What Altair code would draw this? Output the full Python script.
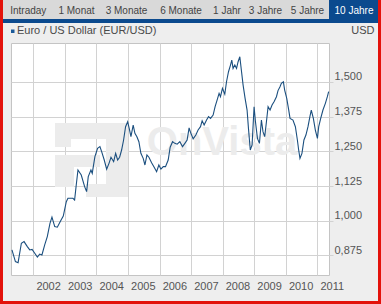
import altair as alt
import pandas as pd

dates = [
    "2001-04-28", "2001-06-07", "2001-07-08", "2001-08-15", "2001-09-15", "2001-10-23", "2001-11-20", "2001-12-17",
    "2002-01-17", "2002-02-16", "2002-03-15", "2002-04-10", "2002-05-12", "2002-06-11", "2002-07-12", "2002-08-04",
    "2002-09-05", "2002-10-05", "2002-11-13", "2002-12-13",
    "2003-01-17", "2003-02-05", "2003-04-04", "2003-04-23", "2003-05-12", "2003-06-01", "2003-07-09", "2003-08-17",
    "2003-09-09", "2003-09-28", "2003-10-29", "2003-11-13", "2003-12-14",
    "2004-01-14", "2004-02-10", "2004-03-01", "2004-03-31", "2004-04-28", "2004-05-25", "2004-06-17", "2004-07-18",
    "2004-08-10", "2004-09-02", "2004-09-25", "2004-10-18", "2004-11-10", "2004-12-03", "2004-12-27",
    "2005-01-14", "2005-02-03", "2005-03-01", "2005-03-21", "2005-04-13", "2005-05-06", "2005-05-29", "2005-06-25",
    "2005-07-15", "2005-08-07", "2005-08-30", "2005-09-30", "2005-10-30", "2005-11-27", "2005-12-23",
    "2006-01-16", "2006-02-12", "2006-03-10", "2006-04-10", "2006-05-03", "2006-05-31", "2006-06-26", "2006-07-23",
    "2006-08-23", "2006-09-23", "2006-10-20", "2006-11-15", "2006-12-08", "2006-12-24",
    "2007-01-24", "2007-02-24", "2007-03-22", "2007-04-19", "2007-05-08", "2007-05-31", "2007-06-28", "2007-07-21",
    "2007-08-13", "2007-09-12", "2007-10-05", "2007-10-28", "2007-11-20", "2007-12-06", "2007-12-29",
    "2008-01-25", "2008-02-14", "2008-03-08", "2008-03-31", "2008-04-15", "2008-04-30", "2008-05-20", "2008-06-09",
    "2008-06-27", "2008-07-17", "2008-08-06", "2008-08-24", "2008-09-16", "2008-10-09", "2008-10-25", "2008-11-15",
    "2008-12-06", "2008-12-29",
    "2009-01-14", "2009-02-06", "2009-03-01", "2009-03-24", "2009-04-11", "2009-05-01", "2009-05-21", "2009-06-09",
    "2009-07-02", "2009-07-25", "2009-08-17", "2009-09-14", "2009-10-02", "2009-10-25", "2009-11-10", "2009-12-03",
    "2009-12-18",
    "2010-01-11", "2010-02-03", "2010-02-18", "2010-03-24", "2010-04-21", "2010-05-14", "2010-05-29", "2010-06-13",
    "2010-07-06", "2010-07-29", "2010-08-21", "2010-09-14", "2010-10-06", "2010-10-22", "2010-11-15", "2010-12-08",
    "2011-01-01", "2011-01-16", "2011-02-08", "2011-03-06", "2011-04-03", "2011-04-26", "2011-05-11",
]
rates = [
    0.895, 0.853, 0.849, 0.919, 0.925, 0.907, 0.895, 0.897,
    0.883, 0.869, 0.880, 0.877, 0.913, 0.943, 0.991, 1.013,
    0.979, 0.977, 1.000, 1.017,
    1.069, 1.081, 1.081, 1.075, 1.129, 1.183, 1.165, 1.123,
    1.105, 1.159, 1.183, 1.171, 1.231,
    1.261, 1.267, 1.249, 1.219, 1.186, 1.207, 1.229, 1.213,
    1.243, 1.219, 1.229, 1.255, 1.291, 1.339, 1.357,
    1.333, 1.303, 1.345, 1.315, 1.303, 1.285, 1.243, 1.225,
    1.201, 1.237, 1.229, 1.209, 1.193, 1.177, 1.201,
    1.186, 1.195, 1.195, 1.219, 1.265, 1.285, 1.279, 1.276,
    1.285, 1.267, 1.279, 1.291, 1.335, 1.319,
    1.295, 1.309, 1.327, 1.339, 1.360, 1.345, 1.363, 1.375,
    1.369, 1.381, 1.411, 1.435, 1.459, 1.447, 1.477,
    1.456, 1.501, 1.537, 1.561, 1.579, 1.549, 1.561, 1.549,
    1.573, 1.591, 1.537, 1.489, 1.441, 1.399, 1.333, 1.255,
    1.273, 1.411,
    1.357, 1.297, 1.279, 1.363, 1.321, 1.303, 1.357, 1.411,
    1.399, 1.417, 1.429, 1.447, 1.469, 1.483, 1.495, 1.501,
    1.471,
    1.441, 1.399, 1.369, 1.363, 1.339, 1.291, 1.255, 1.225,
    1.243, 1.291, 1.309, 1.339, 1.375, 1.399, 1.369, 1.327,
    1.297, 1.339, 1.369, 1.399, 1.423, 1.447, 1.465,
]
tabs = ["Intraday", "1 Monat", "3 Monate", "6 Monate", "1 Jahr", "3 Jahre", "5 Jahre", "10 Jahre"]
y_ticks = [0.875, 1.0, 1.125, 1.25, 1.375, 1.5]
years = list(range(2002, 2012))
legend_label = "Euro / US Dollar (EUR/USD)"
unit_label = "USD"
watermark = "OnVista"

df = pd.DataFrame({"date": dates, "rate": rates})

W, H = 318, 232
PL, PT = 11, 43
PR = 381 - PL - W
PB = 304 - PT - H
FONT = "Liberation Sans"

one = alt.Data(values=[{"k": 0}])


def ax(v):
    return v - PL


def ay(v):
    return v - PT


def rect(x1, y1, x2, y2, color):
    return alt.Chart(one).mark_rect(color=color).encode(
        x=alt.value(ax(x1)), x2=alt.value(ax(x2)), y=alt.value(ay(y1)), y2=alt.value(ay(y2))
    )


def text(s, x, y, size, color, align="left", weight="normal"):
    return alt.Chart(one).mark_text(
        text=s, align=align, baseline="middle", fontSize=size, color=color, font=FONT, fontWeight=weight
    ).encode(x=alt.value(ax(x)), y=alt.value(ay(y)))


wm_color = "#ececec"
layers = [
    # watermark logo (approximate)
    rect(55, 123, 123, 139, wm_color),
    rect(55, 123, 71, 147, wm_color),
    rect(55, 155, 100, 167, wm_color),
    rect(55, 155, 74, 187, wm_color),
    rect(106, 123, 128, 197, wm_color),
    rect(86, 184, 128, 197, wm_color),
    text(watermark, 222, 143, 40, wm_color, align="center", weight="bold"),
]

grid_c = "#d2d2d2"
label_c = "#555555"
line = alt.Chart(df).mark_line(color="#1b4f7f", strokeWidth=1.1).encode(
    x=alt.X(
        "date:T",
        scale=alt.Scale(domain=[alt.DateTime(year=2001, month=4, date=17), alt.DateTime(year=2011, month=5, date=15)]),
        axis=alt.Axis(
            values=[alt.DateTime(year=y, month=1, date=1) for y in years], format="%Y", title=None,
            grid=True, gridColor=grid_c, ticks=False, domain=False, labelAlign="left", labelOffset=2.5,
            labelPadding=5, labelBaseline="top", labelFlush=False, labelOverlap=False, labelFontSize=11,
            labelColor=label_c, labelFont=FONT,
        ),
    ),
    y=alt.Y(
        "rate:Q",
        scale=alt.Scale(domain=[0.8047, 1.6405], nice=False, zero=False),
        axis=alt.Axis(
            orient="right", values=y_ticks, labelExpr="replace(format(datum.value, '.3f'), '.', ',')",
            title=None, grid=True, gridColor=grid_c, tickColor=grid_c, tickSize=4, domain=False,
            labelPadding=1, labelOffset=-5, labelFontSize=11, labelColor=label_c, labelFont=FONT,
            labelFlush=False, labelOverlap=False,
        ),
    ),
)
layers.append(line)

# frame / header decoration
blue = "#0b4a8e"
layers += [
    rect(3, 0, 378, 19, "#d9d9d9"),
    rect(329, 0, 378, 19, blue),
    rect(3, 19, 378, 23, blue),
    rect(0, 0, 3, 304, "#e3120b"),
    rect(378, 0, 381, 304, "#e3120b"),
    rect(0, 301, 381, 304, "#e3120b"),
    rect(11, 29.5, 14.5, 33, "#1a5a9a"),
    text(legend_label, 17, 31, 11, "#4a4a4a"),
    text(unit_label, 374.5, 31, 11, "#4a4a4a", align="right"),
]
tab_centers = [28.3, 76.5, 126.5, 181, 227, 265.5, 307.5, 354]
for t, cx in zip(tabs, tab_centers):
    col = "white" if t == "10 Jahre" else "#444444"
    layers.append(text(t, cx, 10.5, 10, col, align="center"))

chart = alt.layer(*layers).properties(
    width=W, height=H, autosize="none",
    padding={"left": PL, "top": PT, "right": PR, "bottom": PB},
    background="#eeeeee",
).configure_view(fill="white", stroke="#c4c4c4", strokeWidth=1)

chart.save("out.html", embed_options={"renderer": "svg", "actions": False})
